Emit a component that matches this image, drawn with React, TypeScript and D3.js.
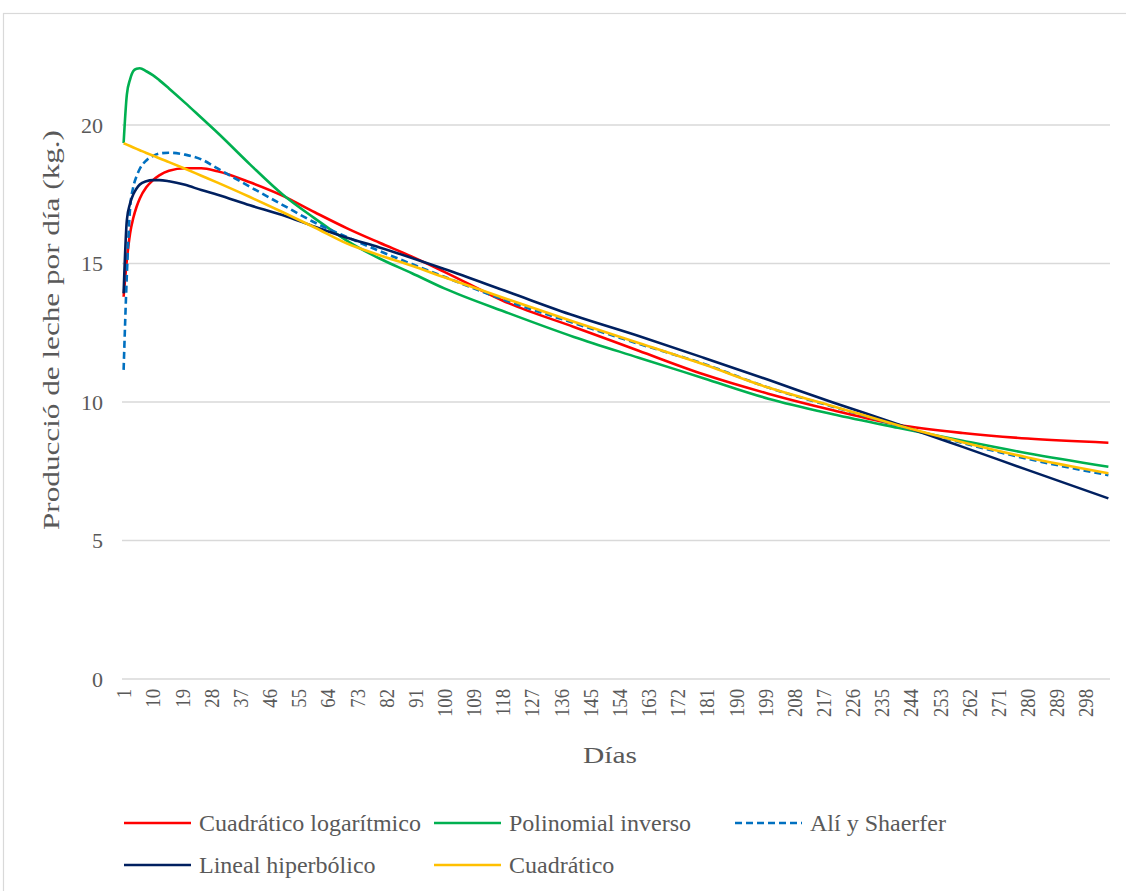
import React from "react";
import * as d3 from "d3";

// ---- data ----
const days = [1, 2, 3, 4, 5, 6, 8, 10, 12, 15, 20, 25, 30, 40, 50, 60, 70, 80, 90, 100, 120, 140, 160, 180, 200, 220, 240, 260, 280, 305];

const cuadraticoLog = [13.8, 15.13, 16.09, 16.65, 17.05, 17.35, 17.75, 18.0, 18.18, 18.35, 18.44, 18.44, 18.33, 17.93, 17.45, 16.85, 16.27, 15.75, 15.25, 14.7, 13.56, 12.71, 11.85, 11.0, 10.3, 9.7, 9.18, 8.88, 8.68, 8.53];
const polinomialInverso = [19.35, 21.1, 21.65, 21.95, 22.03, 22.05, 21.94, 21.8, 21.62, 21.32, 20.8, 20.26, 19.72, 18.58, 17.5, 16.63, 15.82, 15.18, 14.65, 14.1, 13.2, 12.35, 11.6, 10.86, 10.12, 9.56, 9.07, 8.6, 8.15, 7.66];
const aliShaerfer = [11.16, 14.6, 17.0, 17.77, 18.15, 18.42, 18.72, 18.88, 18.97, 19.0, 18.93, 18.76, 18.43, 17.77, 17.12, 16.48, 15.95, 15.45, 14.98, 14.52, 13.62, 12.85, 12.1, 11.38, 10.52, 9.83, 9.15, 8.52, 7.95, 7.36];
const linealHiperbolico = [13.92, 16.57, 17.17, 17.5, 17.71, 17.85, 17.97, 18.01, 18.01, 17.97, 17.84, 17.65, 17.48, 17.1, 16.75, 16.33, 15.93, 15.58, 15.2, 14.8, 13.96, 13.12, 12.38, 11.6, 10.8, 9.98, 9.2, 8.38, 7.55, 6.52];
const cuadratico = [19.34, 19.29, 19.24, 19.19, 19.14, 19.09, 18.99, 18.9, 18.8, 18.66, 18.42, 18.17, 17.92, 17.4, 16.86, 16.3, 15.72, 15.3, 14.92, 14.5, 13.69, 12.9, 12.13, 11.36, 10.52, 9.85, 9.16, 8.55, 8.0, 7.43];

const seriesNames = ["Cuadrático logarítmico", "Polinomial inverso", "Alí y Shaerfer", "Lineal hiperbólico", "Cuadrático"];
const seriesValues = [cuadraticoLog, polinomialInverso, aliShaerfer, linealHiperbolico, cuadratico];
const seriesColors = ["#FF0000", "#00B050", "#0070C0", "#002060", "#FFC000"];
const seriesDashed = [false, false, true, false, false];

const yTicks = [0, 5, 10, 15, 20];
const xTickLabels = d3.range(1, 306, 9);
const firstDay = 1;
const lastDay = 305;

const W = 1126;
const H = 891;
const FONT = "'Liberation Serif', 'Times New Roman', serif";
const TEXT = "#595959";
const GRID = "#D9D9D9";

export default function App() {
  const x = d3.scaleLinear().domain([firstDay - 0.5, lastDay + 0.5]).range([122, 1110]);
  const y = d3.scaleLinear().domain([0, 20]).range([679, 125]);

  const line = d3
    .line<[number, number]>()
    .x((d) => x(d[0]))
    .y((d) => y(d[1]))
    .curve(d3.curveMonotoneX);

  const legendCols = [124, 434, 735];
  const legendRows = [823, 865];

  return (
    <div style={{ position: "absolute", left: 0, top: 0 }}>
      <svg width={W} height={H} style={{ display: "block", background: "#fff" }} fontFamily={FONT}>
        <rect x={3.5} y={13.5} width={W + 20} height={H + 20} fill="#fff" stroke={GRID} strokeWidth={1.2} />

        {yTicks.map((t) => (
          <g key={t}>
            <line x1={x.range()[0]} x2={x.range()[1]} y1={y(t)} y2={y(t)} stroke={GRID} strokeWidth={1.5} />
            <text x={103} y={y(t)} dy="0.35em" textAnchor="end" fontSize={22} fill={TEXT}>
              {t}
            </text>
          </g>
        ))}

        {xTickLabels.map((d) => (
          <text
            key={d}
            transform={`translate(${x(d)},${689}) rotate(-90) scale(0.85,1)`}
            dy="0.35em"
            textAnchor="end"
            fontSize={22}
            fill={TEXT}
          >
            {d}
          </text>
        ))}

        {seriesValues.map((vals, i) => (
          <path
            key={seriesNames[i]}
            d={line(days.map((d, j) => [d, vals[j]] as [number, number])) || ""}
            fill="none"
            stroke={seriesColors[i]}
            strokeWidth={2.6}
            strokeDasharray={seriesDashed[i] ? "7,4" : undefined}
            strokeLinejoin="round"
          />
        ))}

        <text
          transform={`translate(59,330) rotate(-90)`}
          textAnchor="middle"
          fontSize={24}
          textLength={400}
          lengthAdjust="spacingAndGlyphs"
          fill={TEXT}
        >
          Producció de leche por día (kg.)
        </text>
        <text x={610} y={763} textAnchor="middle" fontSize={24} textLength={54} lengthAdjust="spacingAndGlyphs" fill={TEXT}>
          Días
        </text>

        {seriesNames.map((name, i) => {
          const col = legendCols[i % 3];
          const row = legendRows[Math.floor(i / 3)];
          return (
            <g key={name}>
              <line
                x1={col}
                x2={col + 67}
                y1={row}
                y2={row}
                stroke={seriesColors[i]}
                strokeWidth={2.6}
                strokeDasharray={seriesDashed[i] ? "7,4" : undefined}
              />
              <text x={col + 75} y={row} dy="0.35em" fontSize={24} fill={TEXT}>
                {name}
              </text>
            </g>
          );
        })}
      </svg>
    </div>
  );
}
